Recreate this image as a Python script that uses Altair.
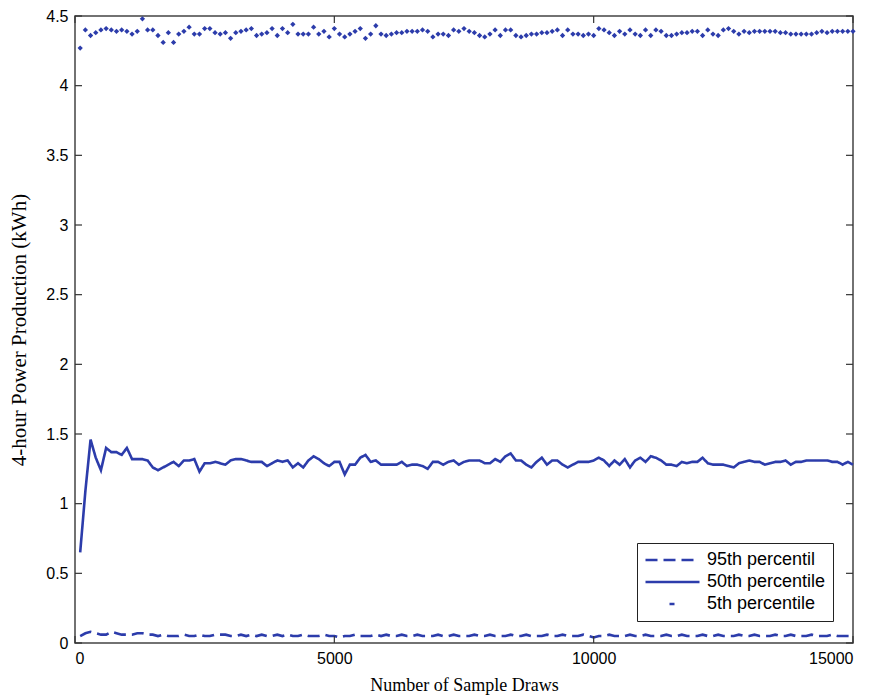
import altair as alt
import pandas as pd

# ---------------- data ----------------
draws = list(range(100, 15001, 100))

p5 = [4.27, 4.40, 4.36, 4.38, 4.40, 4.41, 4.40, 4.39, 4.40, 4.39,
      4.37, 4.39, 4.48, 4.40, 4.40, 4.36, 4.31, 4.38, 4.31, 4.37,
      4.39, 4.42, 4.37, 4.37, 4.41, 4.41, 4.38, 4.37, 4.38, 4.34,
      4.38, 4.39, 4.40, 4.41, 4.36, 4.37, 4.38, 4.41, 4.36, 4.41,
      4.38, 4.44, 4.37, 4.37, 4.37, 4.42, 4.37, 4.39, 4.35, 4.41,
      4.37, 4.35, 4.37, 4.39, 4.41, 4.34, 4.37, 4.43, 4.37, 4.36,
      4.37, 4.38, 4.38, 4.39, 4.39, 4.39, 4.40, 4.39, 4.35, 4.37,
      4.37, 4.36, 4.40, 4.39, 4.41, 4.39, 4.38, 4.36, 4.35, 4.37,
      4.40, 4.36, 4.40, 4.40, 4.36, 4.35, 4.36, 4.37, 4.37, 4.38,
      4.38, 4.39, 4.40, 4.36, 4.40, 4.37, 4.37, 4.36, 4.37, 4.36,
      4.41, 4.40, 4.38, 4.36, 4.39, 4.37, 4.40, 4.37, 4.36, 4.40,
      4.36, 4.40, 4.39, 4.36, 4.36, 4.37, 4.38, 4.38, 4.39, 4.39,
      4.36, 4.40, 4.37, 4.36, 4.40, 4.41, 4.39, 4.37, 4.39, 4.38,
      4.39, 4.39, 4.39, 4.39, 4.39, 4.38, 4.38, 4.37, 4.37, 4.37,
      4.37, 4.37, 4.38, 4.39, 4.38, 4.39, 4.39, 4.39, 4.39, 4.39]

p50 = [0.65, 1.09, 1.46, 1.33, 1.24, 1.40, 1.37, 1.37, 1.35, 1.40,
       1.32, 1.32, 1.32, 1.31, 1.26, 1.24, 1.26, 1.28, 1.30, 1.27,
       1.31, 1.31, 1.32, 1.23, 1.29, 1.29, 1.30, 1.29, 1.28, 1.31,
       1.32, 1.32, 1.31, 1.30, 1.30, 1.30, 1.27, 1.29, 1.31, 1.30,
       1.31, 1.26, 1.29, 1.26, 1.31, 1.34, 1.32, 1.29, 1.27, 1.30,
       1.30, 1.21, 1.28, 1.28, 1.33, 1.35, 1.30, 1.31, 1.28, 1.28,
       1.28, 1.28, 1.30, 1.27, 1.28, 1.28, 1.27, 1.25, 1.30, 1.30,
       1.28, 1.30, 1.31, 1.28, 1.30, 1.31, 1.31, 1.31, 1.29, 1.29,
       1.32, 1.30, 1.34, 1.36, 1.31, 1.31, 1.28, 1.26, 1.30, 1.33,
       1.28, 1.31, 1.31, 1.28, 1.26, 1.28, 1.30, 1.30, 1.30, 1.31,
       1.33, 1.31, 1.27, 1.31, 1.28, 1.32, 1.26, 1.31, 1.33, 1.30,
       1.34, 1.33, 1.31, 1.28, 1.28, 1.27, 1.30, 1.29, 1.30, 1.30,
       1.33, 1.29, 1.28, 1.28, 1.28, 1.27, 1.26, 1.29, 1.30, 1.31,
       1.30, 1.30, 1.28, 1.29, 1.30, 1.30, 1.31, 1.28, 1.30, 1.30,
       1.31, 1.31, 1.31, 1.31, 1.31, 1.30, 1.30, 1.28, 1.30, 1.28]

p95 = [0.05, 0.07, 0.08, 0.07, 0.06, 0.06, 0.08, 0.07, 0.06, 0.06,
       0.06, 0.07, 0.07, 0.06, 0.06, 0.05, 0.06, 0.05, 0.05, 0.05,
       0.06, 0.05, 0.05, 0.06, 0.05, 0.05, 0.06, 0.06, 0.06, 0.05,
       0.05, 0.06, 0.05, 0.06, 0.05, 0.06, 0.05, 0.05, 0.06, 0.05,
       0.06, 0.05, 0.05, 0.06, 0.05, 0.05, 0.05, 0.06, 0.05, 0.05,
       0.04, 0.05, 0.05, 0.06, 0.05, 0.05, 0.05, 0.06, 0.05, 0.06,
       0.05, 0.05, 0.06, 0.05, 0.05, 0.06, 0.05, 0.05, 0.05, 0.06,
       0.05, 0.05, 0.06, 0.05, 0.05, 0.05, 0.06, 0.05, 0.05, 0.06,
       0.05, 0.05, 0.05, 0.06, 0.05, 0.05, 0.06, 0.05, 0.05, 0.05,
       0.06, 0.05, 0.05, 0.06, 0.05, 0.05, 0.05, 0.06, 0.05, 0.04,
       0.05, 0.05, 0.06, 0.05, 0.05, 0.05, 0.06, 0.05, 0.05, 0.06,
       0.05, 0.05, 0.05, 0.06, 0.05, 0.05, 0.06, 0.05, 0.05, 0.05,
       0.06, 0.05, 0.05, 0.06, 0.05, 0.05, 0.05, 0.06, 0.05, 0.05,
       0.06, 0.05, 0.05, 0.05, 0.06, 0.05, 0.05, 0.06, 0.05, 0.05,
       0.05, 0.06, 0.05, 0.05, 0.05, 0.06, 0.05, 0.05, 0.05, 0.05]

series_names = ["95th percentil", "50th percentile", "5th percentile"]
x_ticks = [0, 5000, 10000, 15000]
y_ticks = [0, 0.5, 1, 1.5, 2, 2.5, 3, 3.5, 4, 4.5]

BLUE = "#2c3cab"
W, H = 778, 627

rows = []
for name, vals in zip(series_names, [p95, p50, p5]):
    for d, v in zip(draws, vals):
        rows.append({"draws": d, "value": v, "series": name})
df = pd.DataFrame(rows)

xscale = alt.Scale(domain=[0, 15000], nice=False, zero=False)
yscale = alt.Scale(domain=[0, 4.5], nice=False)

base = alt.Chart(df)

lines = base.transform_filter(
    alt.datum.series != "5th percentile"
).mark_line(strokeWidth=2.6, color=BLUE, strokeCap="butt").encode(
    x=alt.X("draws:Q", scale=xscale,
            axis=alt.Axis(title="Number of Sample Draws", values=x_ticks, format="d")),
    y=alt.Y("value:Q", scale=yscale,
            axis=alt.Axis(title="4-hour Power Production (kWh)", values=y_ticks, format="~g")),
    strokeDash=alt.StrokeDash(
        "series:N",
        scale=alt.Scale(domain=series_names,
                        range=[[12, 6], [1, 0], [0, 24, 5, 200]]),
        legend=alt.Legend(
            title=None, orient="none", legendX=562, legendY=527,
            symbolType="stroke", symbolSize=2916, symbolStrokeWidth=2.6,
            symbolStrokeColor=BLUE, labelFont="Liberation Sans", labelFontSize=18,
            labelColor="black", labelOffset=6, padding=7, rowPadding=2,
            clipHeight=20,
            strokeColor="#222", fillColor="white", labelLimit=300,
        ),
    ),
)

points = base.transform_filter(
    alt.datum.series == "5th percentile"
).mark_point(shape="diamond", filled=True, size=28, color=BLUE, opacity=1).encode(
    x=alt.X("draws:Q", scale=xscale),
    y=alt.Y("value:Q", scale=yscale),
)

xt = alt.Chart(pd.DataFrame({"t": x_ticks}))
yt = alt.Chart(pd.DataFrame({"t": y_ticks}))
tick_col = "#333"
xt_bottom = xt.mark_rule(color=tick_col, strokeWidth=1.2).encode(
    x=alt.X("t:Q", scale=xscale), y=alt.value(H), y2=alt.value(H - 7))
xt_top = xt.mark_rule(color=tick_col, strokeWidth=1.2).encode(
    x=alt.X("t:Q", scale=xscale), y=alt.value(0), y2=alt.value(7))
yt_left = yt.mark_rule(color=tick_col, strokeWidth=1.2).encode(
    y=alt.Y("t:Q", scale=yscale), x=alt.value(0), x2=alt.value(7))
yt_right = yt.mark_rule(color=tick_col, strokeWidth=1.2).encode(
    y=alt.Y("t:Q", scale=yscale), x=alt.value(W), x2=alt.value(W - 7))

chart = alt.layer(lines, points, xt_bottom, xt_top, yt_left, yt_right).properties(
    width=W, height=H,
    autosize=alt.AutoSizeParams(type="none"),
    padding={"left": 67, "top": 8, "right": 22, "bottom": 52},
    background="white",
).configure_view(
    stroke="#444", strokeWidth=1.5
).configure_axis(
    grid=False, ticks=False, domain=False,
    labelFont="Liberation Sans", labelFontSize=16, labelColor="black",
    labelPadding=7,
    titleFont="Liberation Serif", titleFontWeight="normal", titleColor="black",
).configure_axisX(
    titleFontSize=18, titlePadding=10,
).configure_axisY(
    titleFontSize=21, titlePadding=16,
)

chart.save("out.html", embed_options={"renderer": "svg", "actions": False})
